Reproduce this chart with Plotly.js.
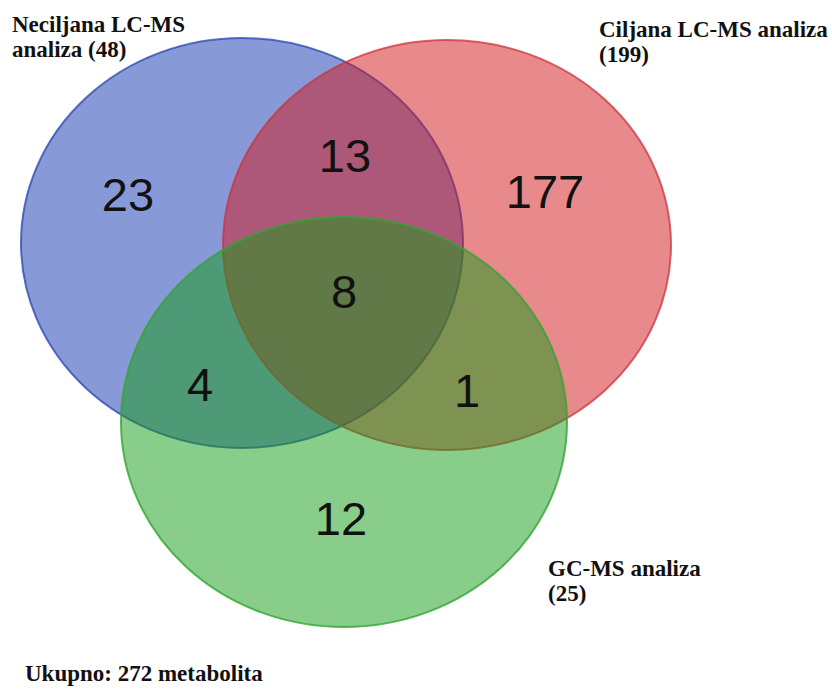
<!DOCTYPE html>
<html>
<head>
<meta charset="utf-8">
<script src="https://cdn.plot.ly/plotly-3.0.1.min.js"></script>
<style>html,body{margin:0;padding:0;background:#fff;}#chart{width:832px;height:690px;}</style>
</head>
<body>
<div id="chart"></div>
<script>
// ---- data ----
const setNames = ["Neciljana LC-MS analiza", "Ciljana LC-MS analiza", "GC-MS analiza"];
const setTotals = [48, 199, 25];
const regionNames = ["N", "C", "G", "N∩C", "N∩G", "C∩G", "N∩C∩G"];
const regionCounts = [23, 177, 12, 13, 4, 1, 8];
const totalLabel = "Ukupno";
const totalCount = 272;
const totalUnit = "metabolita";

// ---- layout (pixel space) ----
const circles = [
  {cx: 242, cy: 243, rx: 221, ry: 205, fill: "rgba(18,52,178,0.5)", line: "rgba(40,70,175,0.75)"},
  {cx: 447, cy: 245, rx: 224, ry: 205, fill: "rgba(210,22,26,0.5)", line: "rgba(205,50,60,0.75)"},
  {cx: 344, cy: 422, rx: 223, ry: 205, fill: "rgba(20,156,22,0.5)", line: "rgba(50,165,50,0.8)"}
];
const regionPos = [[128, 199], [545, 196], [341, 523], [345, 160], [200, 389], [467, 395], [344, 296]];
const setLabelPos = [
  {x: 10, y: [24, 49], lines: ["Neciljana LC-MS", "analiza (%d)"]},
  {x: 597, y: [29, 54], lines: ["Ciljana LC-MS analiza", "(%d)"]},
  {x: 546, y: [568, 593], lines: ["GC-MS analiza", "(%d)"]}
];
const totalPos = {x: 23, y: 673};

const shapes = circles.map(c => ({
  type: "circle", xref: "x", yref: "y", layer: "below",
  x0: c.cx - c.rx, x1: c.cx + c.rx, y0: c.cy - c.ry, y1: c.cy + c.ry,
  fillcolor: c.fill, line: {color: c.line, width: 2}
}));

const labelFont = {family: "Liberation Serif, Times New Roman, serif", size: 23, color: "#111"};
const annotations = [];
setLabelPos.forEach((p, i) => {
  p.lines.forEach((ln, j) => {
    annotations.push({
      x: p.x, y: p.y[j], xref: "x", yref: "y", xanchor: "left", yanchor: "middle",
      text: "<b>" + ln.replace("%d", setTotals[i]) + "</b>", showarrow: false, font: labelFont
    });
  });
});
annotations.push({
  x: totalPos.x, y: totalPos.y, xref: "x", yref: "y", xanchor: "left", yanchor: "middle",
  text: "<b>" + totalLabel + ": " + totalCount + " " + totalUnit + "</b>", showarrow: false, font: labelFont
});

const trace = {
  type: "scatter", mode: "text",
  x: regionPos.map(p => p[0]), y: regionPos.map(p => p[1]),
  text: regionCounts.map(String),
  customdata: regionNames,
  textposition: "middle center",
  textfont: {family: "Liberation Sans, Arial, sans-serif", size: 47, color: "#111"},
  hoverinfo: "text+name", showlegend: false
};

Plotly.newPlot("chart", [trace], {
  width: 832, height: 690,
  margin: {l: 0, r: 0, t: 0, b: 0},
  paper_bgcolor: "#fff", plot_bgcolor: "#fff",
  xaxis: {range: [0, 832], visible: false, fixedrange: true},
  yaxis: {range: [690, 0], visible: false, fixedrange: true},
  shapes: shapes, annotations: annotations, showlegend: false
}, {displayModeBar: false, staticPlot: true});
</script>
</body>
</html>
